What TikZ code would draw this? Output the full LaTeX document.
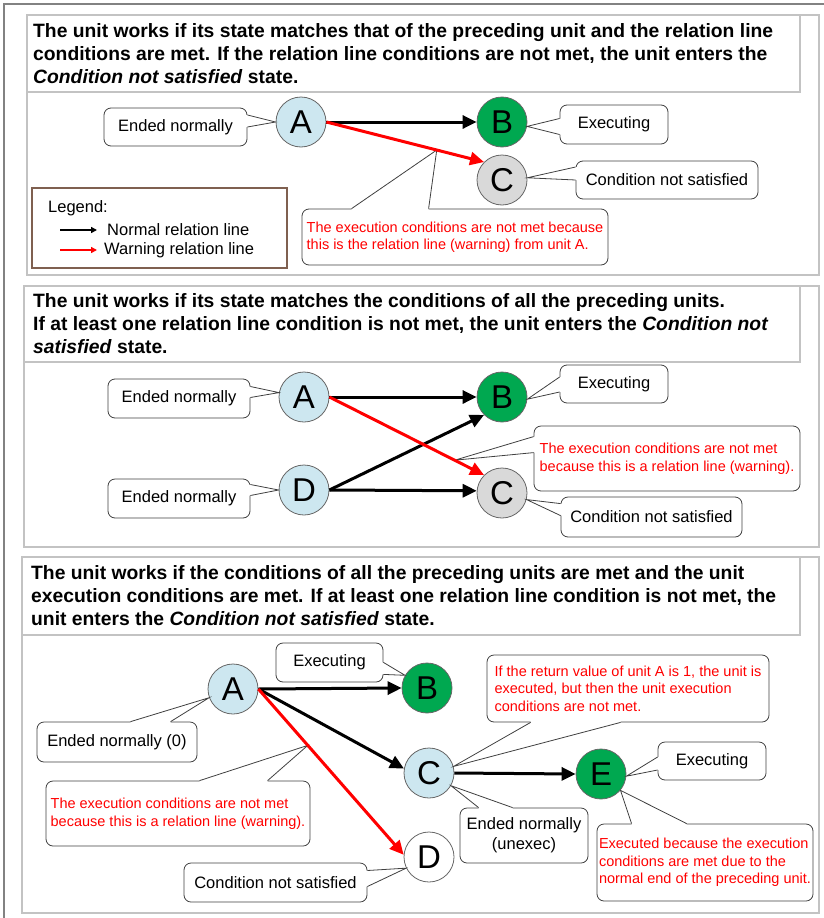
\documentclass[tikz,border=0pt]{standalone}
\usepackage{fontspec}
\setmainfont{Liberation Sans}
\usetikzlibrary{arrows.meta,calc}

\definecolor{unitblue}{RGB}{205,231,240}
\definecolor{unitgreen}{RGB}{0,168,80}
\definecolor{unitgray}{RGB}{217,217,217}
\definecolor{framegray}{RGB}{195,195,195}
\definecolor{outergray}{RGB}{130,130,130}
\definecolor{legendbrown}{RGB}{127,96,80}
\definecolor{warnred}{RGB}{255,0,0}
\definecolor{boxline}{RGB}{64,64,64}

% Callout tail: #1 anchor on the box edge, #2 and #4 offsets of the two base
% points from that anchor, #3 tip, #5 small shift into the box used to open
% the box outline between the base points.
\newcommand\calltail[5]{%
  \fill[white] ($(#1)+(#2)+(#5)$) -- ($(#1)+(#2)$) -- (#3) -- ($(#1)+(#4)$) -- ($(#1)+(#4)+(#5)$) -- cycle;
  \draw[tailline] ($(#1)+(#2)$) -- (#3) -- ($(#1)+(#4)$);
}

\begin{document}
\begin{tikzpicture}[x=1pt,y=-1pt,
  unit/.style={circle, draw=black!60, line width=0.8pt, minimum size=50pt,
    inner sep=0pt, font=\fontsize{33}{33}\selectfont},
  framebox/.style={draw=framegray, line width=1.5pt},
  cbox/.style={draw=boxline, fill=white, line width=0.8pt, rounded corners=7pt,
    inner sep=0pt, align=center, font=\fontsize{16.5}{20}\selectfont},
  rbox/.style={cbox, text=warnred, align=left, font=\fontsize{14.5}{17.5}\selectfont},
  tailline/.style={draw=boxline, line width=0.8pt},
  rel/.style={line width=3pt, -{Triangle[length=14pt,width=13pt]}},
  warn/.style={rel, draw=warnred},
  legarrow/.style={line width=1.5pt, -{Triangle[length=6pt,width=6pt]}},
  headtext/.style={anchor=north west, inner sep=0pt, align=left,
    font=\fontsize{19.3}{23}\selectfont\bfseries},
  plain/.style={anchor=west, inner sep=0pt, font=\fontsize{16.5}{20}\selectfont},
]
\useasboundingbox (0,0) rectangle (824,918);

% outer frame
\draw[outergray, line width=1.5pt] (4,930) -- (4,4) -- (830,4);

% ---------------- panel 1 ----------------
\draw[framebox] (27,15) rectangle (819,275);
\draw[framebox] (27,15) rectangle (800,92);
\node[headtext] (h1) at (33,23.5) {The unit works if its state matches that of the preceding unit and the relation line\\
conditions are met. If the relation line conditions are not met, the unit enters the\\
\textit{Condition not satisfied} state.};

\node[unit, fill=unitblue]  (A1) at (301,122) {A};
\node[unit, fill=unitgreen] (B1) at (502,122) {B};
\node[unit, fill=unitgray]  (C1) at (502,180) {C};
\coordinate (w1) at ($(A1.east)!0.70!(C1.north west)$);

\node[cbox, minimum width=143pt, minimum height=38pt] (e1) at (175.5,127) {Ended normally};
\calltail{e1.east}{0,-12}{A1.west}{0,0}{-2,0}
\node[cbox, minimum width=108pt, minimum height=39pt] (x1) at (614,124.5) {Executing};
\calltail{x1.west}{0,-6}{B1.-10}{0,10}{2,0}
\node[cbox, minimum width=182pt, minimum height=38pt] (n1) at (667,180) {Condition not satisfied};
\calltail{n1.west}{0,-13}{C1.5}{0,0}{2,0}
\node[rbox, minimum width=306pt, minimum height=56pt] (r1) at (455,237)
  {The execution conditions are not met because\\this is the relation line (warning) from unit A.};
\calltail{r1.north west}{50,0}{w1}{127,0}{0,2}

\draw[rel] (A1.east) -- (B1.west);
\draw[warn] (A1.east) -- (C1.north west);

% legend
\draw[legendbrown, line width=1.3pt] (32,188) rectangle (287,268);
\node[plain] (lg) at (48,208) {Legend:};
\coordinate (ln0) at (60,230);
\coordinate (ln1) at (97,230);
\coordinate (lw0) at (60,250);
\coordinate (lw1) at (97,250);
\draw[legarrow] (ln0) -- (ln1);
\draw[legarrow, draw=warnred] (lw0) -- (lw1);
\node[plain] (lgn) at (107,230) {Normal relation line};
\node[plain] (lgw) at (104,250) {Warning relation line};

% ---------------- panel 2 ----------------
\draw[framebox] (24,286) rectangle (819,547);
\draw[framebox] (24,286) rectangle (800,362);
\node[headtext] (h2) at (33,293.5) {The unit works if its state matches the conditions of all the preceding units.\\
If at least one relation line condition is not met, the unit enters the \textit{Condition not}\\
\textit{satisfied} state.};

\node[unit, fill=unitblue]  (A2) at (304,397) {A};
\node[unit, fill=unitgreen] (B2) at (502,397) {B};
\node[unit, fill=unitblue]  (D2) at (304,490) {D};
\node[unit, fill=unitgray]  (C2) at (502,493) {C};
\coordinate (w2) at ($(A2.east)!0.81!(C2.north west)$);

\node[cbox, minimum width=142pt, minimum height=39pt] (e2a) at (179,398.5) {Ended normally};
\calltail{e2a.east}{0,-12}{A2.170}{0,-1}{-2,0}
\node[cbox, minimum width=142pt, minimum height=39pt] (e2d) at (179,498.5) {Ended normally};
\calltail{e2d.east}{0,-14}{D2.west}{0,-3}{-2,0}
\node[cbox, minimum width=108pt, minimum height=38pt] (x2) at (614,384) {Executing};
\calltail{x2.west}{0,-7}{B2.-5}{0,8}{2,0}
\node[rbox, minimum width=266pt, minimum height=65pt] (r2) at (667,458.5)
  {The execution conditions are not met\\because this is a relation line (warning).};
\calltail{r2.north west}{0,11}{w2}{0,27}{2,0}
\node[cbox, minimum width=181pt, minimum height=40pt] (n2) at (651.5,517) {Condition not satisfied};
\calltail{n2.north west}{0,7}{C2.-15}{0,19}{2,0}

\draw[rel] (A2.east) -- (B2.west);
\draw[rel] (D2.east) -- (B2.south west);
\draw[rel] (D2.east) -- (C2.175);
\draw[warn] (A2.east) -- (C2.north west);

% ---------------- panel 3 ----------------
\draw[framebox] (22,557) rectangle (819,913);
\draw[framebox] (22,557) rectangle (800,635);
\node[headtext] (h3) at (31,565.5) {The unit works if the conditions of all the preceding units are met and the unit\\
execution conditions are met. If at least one relation line condition is not met, the\\
unit enters the \textit{Condition not satisfied} state.};

\node[unit, fill=unitblue]  (A3) at (233,689) {A};
\node[unit, fill=unitgreen] (B3) at (427,688) {B};
\node[unit, fill=unitblue]  (C3) at (429,773) {C};
\node[unit, fill=white]     (D3) at (429,857) {D};
\node[unit, fill=unitgreen] (E3) at (601,774) {E};
\coordinate (w3) at ($(A3.east)!0.34!(D3.175)$);

\node[cbox, minimum width=107pt, minimum height=39pt] (x3b) at (329.5,662.5) {Executing};
\calltail{x3b.south east}{0,-20}{B3.150}{0,-8}{-2,0}
\node[rbox, minimum width=282pt, minimum height=67pt] (r3a) at (628,688.5)
  {If the return value of unit A is 1, the unit is\\executed, but then the unit execution\\conditions are not met.};
\calltail{r3a.south west}{44,0}{C3.15}{134,0}{0,-2}
\node[cbox, minimum width=160pt, minimum height=40pt] (e3) at (117,742) {Ended normally (0)};
\calltail{e3.north west}{94,0}{A3.200}{134,0}{0,2}
\node[rbox, minimum width=264pt, minimum height=65pt] (r3b) at (178,813.5)
  {The execution conditions are not met\\because this is a relation line (warning).};
\calltail{r3b.north west}{154,0}{w3}{222,0}{0,2}
\node[cbox, minimum width=128pt, minimum height=55pt] (u3) at (524,835.5) {Ended normally\\(unexec)};
\calltail{u3.north west}{19,0}{C3.-30}{53,0}{0,2}
\node[cbox, minimum width=108pt, minimum height=38pt] (x3e) at (712,761) {Executing};
\calltail{x3e.west}{0,-4}{E3.-5}{0,9}{2,0}
\node[rbox, minimum width=216pt, minimum height=77pt] (r3c) at (705,862.5)
  {Executed because the execution\\conditions are met due to the\\normal end of the preceding unit.};
\calltail{r3c.north west}{35,0}{E3.-40}{90,0}{0,2}
\node[cbox, minimum width=183pt, minimum height=39pt] (n3) at (275.5,882.5) {Condition not satisfied};
\calltail{n3.east}{0,-12}{D3.206}{0,4}{-2,0}

\draw[rel] (A3.east) -- (B3.west);
\draw[rel] (A3.east) -- (C3.170);
\draw[warn] (A3.east) -- (D3.175);
\draw[rel] (C3.east) -- (E3.west);
\end{tikzpicture}
\end{document}
